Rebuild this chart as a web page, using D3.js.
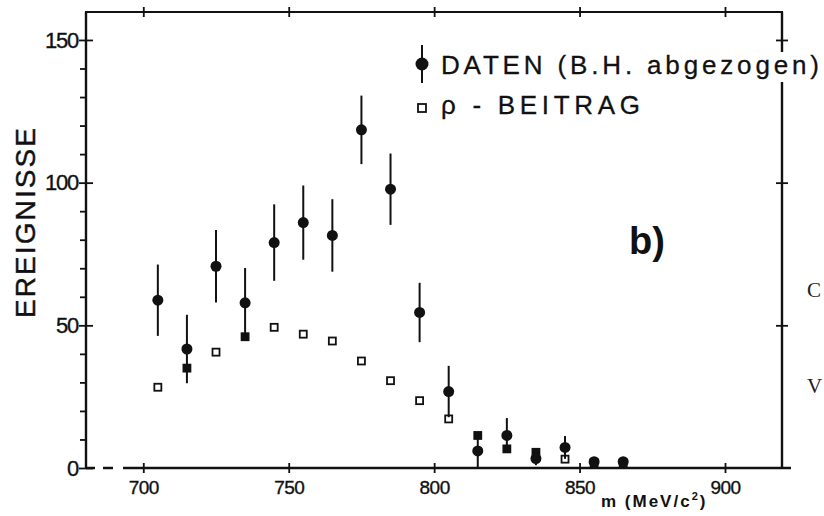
<!DOCTYPE html>
<html>
<head>
<meta charset="utf-8">
<script src="https://cdn.jsdelivr.net/npm/d3@7"></script>
<style>
  html, body { margin: 0; padding: 0; background: #fff; }
  svg { display: block; font-family: "Liberation Sans", Arial, Helvetica, sans-serif; }
</style>
</head>
<body>
<svg id="chart" width="824" height="516"></svg>
<script>
// ---- data ----
const masses   = [705, 715, 725, 735, 745, 755, 765, 775, 785, 795, 805, 815, 825, 835, 845, 855, 865];
const daten    = [58.8, 41.7, 70.7, 57.9, 79.0, 86.0, 81.5, 118.5, 97.7, 54.5, 26.8, 6.0, 11.4, 3.3, 7.2, 2.2, 2.2];
const datenErr = [12.5, 12.0, 12.7, 12.2, 13.4, 13.0, 12.7, 12.0, 12.5, 10.4, 9.0, 6.0, 6.1, 2.3, 4.0, 0, 0];
const rho      = [28.3, 35.0, 40.6, 46.0, 49.3, 46.9, 44.5, 37.5, 30.6, 23.6, 17.2, 11.4, 6.7, 5.5, 3.1, 1.8, 1.8];
const xTicks   = [700, 750, 800, 850, 900];
const yTicks   = [0, 50, 100, 150];
const yMinor   = [10, 20, 30, 40, 60, 70, 80, 90, 110, 120, 130, 140];
const yLabel   = "EREIGNISSE";
const xLabel   = ["m (MeV/c", "2", ")"];
const legendLabels = ["DATEN (B.H. abgezogen)", "\u03C1 - BEITRAG"];
const panelLabel = "b)";
const marginText = ["C", "V"];

// ---- layout ----
const L = 86, R = 782, T = 12, B = 468;
const svg = d3.select("#chart");
const x = d3.scaleLinear().domain([680.3, 919.6]).range([L, R]);
const y = d3.scaleLinear().domain([0, 159.8]).range([B, T]);
const ink = "#111";

// ---- frame lines ----
const frame = svg.append("g").attr("stroke", ink).attr("fill", "none");
frame.append("line").attr("x1", L).attr("x2", L).attr("y1", T).attr("y2", B).attr("stroke-width", 2.4);
frame.append("line").attr("x1", L - 1).attr("x2", R + 1).attr("y1", T).attr("y2", T).attr("stroke-width", 2.2);
frame.append("line").attr("x1", R).attr("x2", R).attr("y1", T).attr("y2", B).attr("stroke-width", 2.4);
frame.append("line").attr("x1", L).attr("x2", R + 9).attr("y1", B).attr("y2", B)
  .attr("stroke-width", 2.4).attr("stroke-dasharray", "9,8,10,10,2000");

// ---- axes ----
function styleAxis(g) {
  g.select(".domain").remove();
  g.selectAll(".tick line").attr("stroke", ink).attr("stroke-width", 1.8);
  g.selectAll(".tick text").attr("fill", ink).attr("stroke", ink).attr("stroke-width", 0.35);
}
svg.append("g").attr("transform", `translate(${L},0)`)
  .call(d3.axisLeft(y).tickValues(yTicks).tickSize(7).tickPadding(1).tickFormat(d3.format("d")))
  .call(styleAxis)
  .call(g => g.selectAll(".tick text").attr("font-size", 22).attr("letter-spacing", -1.2));
svg.append("g").attr("transform", `translate(${L},0)`)
  .call(d3.axisRight(y).tickValues(yTicks).tickSize(7).tickFormat(""))
  .call(styleAxis);
svg.append("g").attr("transform", `translate(${L},0)`)
  .call(d3.axisLeft(y).tickValues(yMinor).tickSize(6).tickFormat(""))
  .call(styleAxis);
svg.append("g").attr("transform", `translate(${R},0)`)
  .call(d3.axisRight(y).tickValues(yTicks.slice(1)).tickSize(6).tickFormat(""))
  .call(styleAxis);
svg.append("g").attr("transform", `translate(${R},0)`)
  .call(d3.axisLeft(y).tickValues(yTicks.slice(1)).tickSize(6).tickFormat(""))
  .call(styleAxis);
svg.append("g").attr("transform", `translate(0,${B})`)
  .call(d3.axisBottom(x).tickValues(xTicks).tickSize(5).tickPadding(8).tickFormat(d3.format("d")))
  .call(styleAxis)
  .call(g => g.selectAll(".tick text").attr("font-size", 19).attr("letter-spacing", -0.5));
svg.append("g").attr("transform", `translate(0,${B})`)
  .call(d3.axisTop(x).tickValues(xTicks).tickSize(5).tickFormat(""))
  .call(styleAxis);
svg.append("g").attr("transform", `translate(0,${T})`)
  .call(d3.axisTop(x).tickValues(xTicks).tickSize(5).tickFormat(""))
  .call(styleAxis);
svg.append("g").attr("transform", `translate(0,${T})`)
  .call(d3.axisBottom(x).tickValues(xTicks).tickSize(5).tickFormat(""))
  .call(styleAxis);

// ---- axis titles ----
svg.append("text")
  .attr("transform", `translate(35,223) rotate(-90)`)
  .attr("text-anchor", "middle")
  .attr("font-size", 28).attr("fill", ink).attr("stroke", ink).attr("stroke-width", 0.4)
  .attr("textLength", 190).attr("lengthAdjust", "spacing")
  .text(yLabel);

const xl = svg.append("text").attr("x", 601).attr("y", 507)
  .attr("font-size", 17).attr("font-weight", "bold").attr("letter-spacing", 2).attr("fill", ink);
xl.append("tspan").text(xLabel[0]);
xl.append("tspan").attr("font-size", 11).attr("dy", -7).text(xLabel[1]);
xl.append("tspan").attr("dy", 7).text(xLabel[2]);

// ---- data ----
const pts = masses.map((m, i) => ({ m, d: daten[i], e: datenErr[i], r: rho[i] }));
const S = 7;
svg.append("g").selectAll("rect").data(pts).join("rect")
  .attr("x", p => x(p.m) - S / 2).attr("y", p => y(p.r) - S / 2)
  .attr("width", S).attr("height", S)
  .attr("fill", p => (p.r >= p.d - p.e && p.r <= p.d + p.e) ? ink : "#fff")
  .attr("stroke", ink).attr("stroke-width", 1.8);
svg.append("g").selectAll("line").data(pts.filter(p => p.e > 0)).join("line")
  .attr("x1", p => x(p.m)).attr("x2", p => x(p.m))
  .attr("y1", p => y(p.d + p.e)).attr("y2", p => y(Math.max(0, p.d - p.e)))
  .attr("stroke", ink).attr("stroke-width", 2);
svg.append("g").selectAll("circle").data(pts).join("circle")
  .attr("cx", p => x(p.m)).attr("cy", p => y(p.d)).attr("r", 5.5).attr("fill", ink);

// ---- legend ----
const lg = svg.append("g");
const t1 = lg.append("text").attr("x", 441).attr("y", 74)
  .attr("font-size", 26).attr("fill", ink).attr("stroke", ink).attr("stroke-width", 0.3)
  .attr("textLength", 378).attr("lengthAdjust", "spacing")
  .text(legendLabels[0]);
const bb = t1.node().getBBox();
lg.insert("rect", "text").attr("x", bb.x + bb.width - 50).attr("y", bb.y + 2)
  .attr("width", 54).attr("height", bb.height).attr("fill", "#fff");
lg.append("line").attr("x1", 422).attr("x2", 422).attr("y1", 45).attr("y2", 83)
  .attr("stroke", ink).attr("stroke-width", 2);
lg.append("circle").attr("cx", 422).attr("cy", 64).attr("r", 6.5).attr("fill", ink);
lg.append("rect").attr("x", 418).attr("y", 104).attr("width", 8).attr("height", 8)
  .attr("fill", "#fff").attr("stroke", ink).attr("stroke-width", 1.8);
lg.append("text").attr("x", 441).attr("y", 114)
  .attr("font-size", 26).attr("fill", ink).attr("stroke", ink).attr("stroke-width", 0.3)
  .attr("textLength", 199).attr("lengthAdjust", "spacing")
  .text(legendLabels[1]);

// panel label
svg.append("text").attr("x", 629).attr("y", 254)
  .attr("font-size", 38).attr("font-weight", "bold").attr("fill", ink)
  .text(panelLabel);

// fragments of neighbouring page text
svg.append("g").selectAll("text").data(marginText).join("text")
  .attr("x", 807).attr("y", (d, i) => [297, 393][i])
  .attr("font-family", "'Liberation Serif', 'DejaVu Serif', serif")
  .attr("font-size", 21).attr("fill", "#222")
  .text(d => d);
</script>
</body>
</html>
